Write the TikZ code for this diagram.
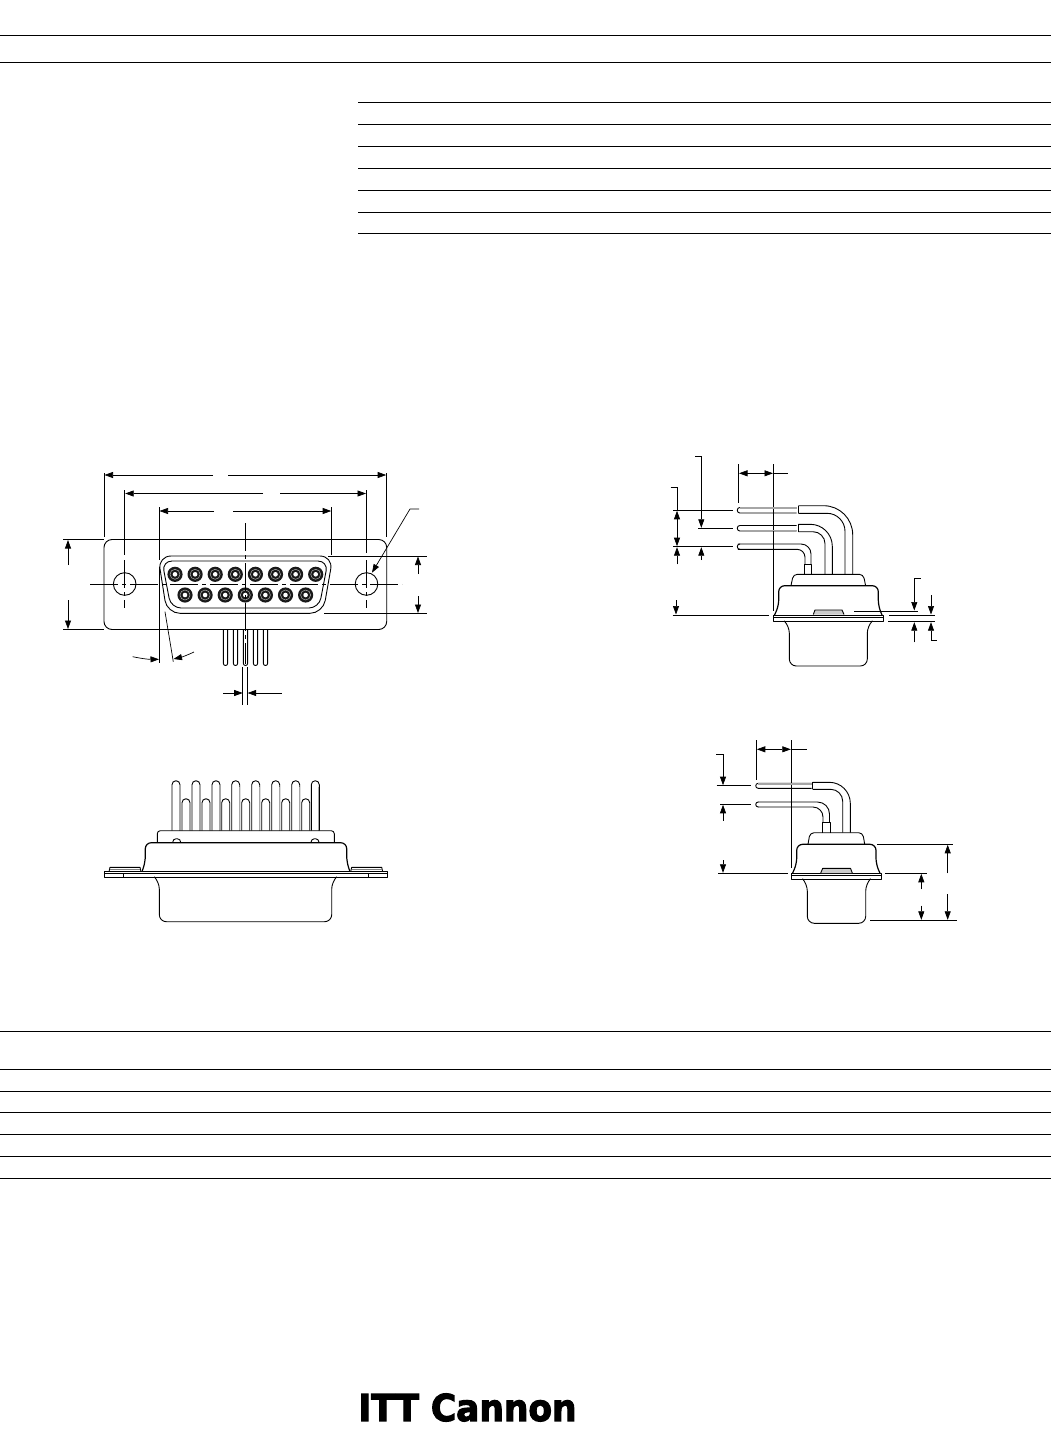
\documentclass[tikz,border=0pt]{standalone}
\usepackage{fontspec}
\usetikzlibrary{arrows.meta}
\newfontfamily\logofont[FakeBold=3]{DejaVu Sans Bold}
\tikzset{
  dimline/.style={line width=0.7pt, {Triangle[length=8.5pt,width=6pt]}-{Triangle[length=8.5pt,width=6pt]}},
  dimtip/.style={line width=0.7pt, -{Triangle[length=8.5pt,width=6pt]}},
  extline/.style={line width=0.7pt},
  centerline/.style={line width=0.7pt, dash pattern=on 28pt off 4pt on 4pt off 4pt},
  outline/.style={line width=0.9pt, line join=round},
  lighter/.style={line width=1.1pt, gray!70},
  rule/.style={line width=0.8pt}
}
\begin{document}
\begin{tikzpicture}[x=1pt, y=-1pt]
\useasboundingbox (0,0) rectangle (1051,1429);
\foreach \y in {35.7,62,1031,1069,1091,1112.6,1134.6,1156.6,1178.2}
  \draw[rule] (0,\y) -- (1051,\y);
\foreach \y in {102,124,146,168,190,212,233.6}
  \draw[rule] (358,\y) -- (1051,\y);
\node[inner sep=0pt, xscale=0.93] (logo) at (467.5,1407.5) {\logofont\fontsize{37}{37}\selectfont ITT Cannon};

\draw[outline, rounded corners=8pt] (245,539.5) -- (386.7,539.5) -- (386.7,629.5) -- (104,629.5) -- (104,539.5) -- cycle;
\draw[outline, rounded corners=13pt] (245,556) -- (333,556) -- (323,613.3) -- (167,613.3) -- (158,556) -- cycle;
\draw[outline, rounded corners=10pt] (245,561) -- (328,561) -- (319,608) -- (171,608) -- (162,561) -- cycle;
\foreach \x in {124.7,366.5}
  \draw[outline] (\x,584) circle (11.3pt);
\foreach \x/\y in {175/574.3,195.1/574.3,215.2/574.3,235.3/574.3,255.4/574.3,275.5/574.3,295.6/574.3,315.7/574.3,185/595,205.1/595,225.2/595,245.3/595,265.4/595,285.5/595,305.6/595} {
  \fill[black!90] (\x,\y) circle (7.6pt);
  \draw[gray!60, line width=0.5pt] (\x,\y) circle (5pt);
  \fill[white] (\x,\y) circle (2.3pt);
}
\draw[centerline] (90,584) -- (402,584);
\draw[centerline] (245.5,523) -- (245.5,664);
\draw[centerline] (124.7,560) -- (124.7,608);
\draw[centerline] (366.5,560) -- (366.5,608);
\foreach \x in {225.5,235.5,245.5,255.5,265.5}
  \draw[outline, rounded corners=2pt] (\x-2.1,630) -- (\x-2.1,665.5) -- (\x+2.1,665.5) -- (\x+2.1,630);

\draw[extline] (104,473) -- (104,537);
\draw[extline] (386.7,473) -- (386.7,537);
\draw[dimtip] (213,475) -- (104.5,475);
\draw[dimtip] (228,475) -- (386.2,475);
\draw[extline] (124.7,490) -- (124.7,555);
\draw[extline] (366.5,490) -- (366.5,553);
\draw[dimtip] (263,493.5) -- (125.2,493.5);
\draw[dimtip] (280,493.5) -- (366,493.5);
\draw[extline] (159,507) -- (159,560);
\draw[extline] (159,567) -- (159,663);
\draw[extline] (331.7,507) -- (331.7,555);
\draw[dimtip] (214,511) -- (159.5,511);
\draw[dimtip] (233,511) -- (331.2,511);
\draw[extline] (63,539.5) -- (104,539.5);
\draw[extline] (63,629.5) -- (104,629.5);
\draw[dimtip] (68,565) -- (68,540);
\draw[dimtip] (68,600) -- (68,629);
\draw[extline] (328,556) -- (427,556);
\draw[extline] (324,613.5) -- (427,613.5);
\draw[dimtip] (418,574) -- (418,556.5);
\draw[dimtip] (418,596) -- (418,613);
\draw[dimtip] (419,509) -- (410,509) -- (372,572.7);
\draw[extline] (165,611.7) -- (173.3,661.7);
\draw[dimtip] (132.7,656.7) to[bend right=6] (159,659.3);
\draw[dimtip] (194,652) to[bend left=6] (173.5,659);
\draw[extline] (242.7,667) -- (242.7,705);
\draw[extline] (247.6,667) -- (247.6,705);
\draw[dimtip] (223.3,693) -- (242.7,693);
\draw[dimtip] (281.7,693) -- (247.6,693);

\foreach \x in {176,196,216,235.7,255.7,275.7,295.7,315.3} {
  \draw[outline, rounded corners=4pt] (\x-4,830.7) -- (\x-4,780.7) -- (\x+4,780.7) -- (\x+4,830.7);
  \draw[lighter] (\x+3.6,787) -- (\x+3.6,830.7);
}
\foreach \x in {186,206,225.7,245.7,265.7,285.7,305.7} {
  \draw[outline, rounded corners=4pt] (\x-4,830.7) -- (\x-4,798.7) -- (\x+4,798.7) -- (\x+4,830.7);
}
\draw[outline, rounded corners=3pt] (157.3,842.7) -- (157.3,830.7) -- (334.3,830.7) -- (334.3,842.7);
\foreach \x in {176.7,315}
  \draw[outline, rounded corners=3.5pt] (\x-4,842.7) -- (\x-4,838.7) -- (\x+4,838.7) -- (\x+4,842.7);
\draw[line width=1.2pt, rounded corners=6pt] (142,871.7) -- (145.3,862) -- (145.3,842.7) -- (346.7,842.7) -- (346.7,862) -- (350,871.7);
\draw[line width=1.2pt, gray!60] (142,871.7) -- (350,871.7);
\draw[outline] (104,871.7) rectangle (387.7,877.5);
\draw[extline] (104,873.7) -- (387.7,873.7);
\foreach \x in {123.7,368.3}
  \draw[extline] (\x,873.7) -- (\x,877.5);
\foreach \x in {110,351.7} {
  \draw[outline] (\x-1,871.7) -- (\x,867.3) -- (\x+30,867.3) -- (\x+31,871.7);
  \draw[extline, gray] (\x,869.5) -- (\x+30,869.5);
}
\draw[outline, rounded corners=7pt] (155,877.5) -- (159.3,882) -- (159.3,921.7) -- (331.7,921.7) -- (331.7,882) -- (336,877.5);

\draw[extline] (738.7,464) -- (738.7,503.3);
\draw[extline] (773.3,464) -- (773.3,611);
\draw[dimline] (739,473.3) -- (773,473.3);
\draw[extline] (773,473.3) -- (787.7,473.3);
\draw[extline] (673.3,510.3) -- (733.3,510.3);
\draw[extline] (698.3,528.3) -- (733.3,528.3);
\draw[extline] (673.3,546.7) -- (733.3,546.7);
\draw[extline] (670.7,487.3) -- (677,487.3) -- (677,510.3);
\draw[dimline] (677,510.8) -- (677,546.2);
\draw[dimtip] (677,564.3) -- (677,547.2);
\draw[dimtip] (695,456.7) -- (701.3,456.7) -- (701.3,527.8);
\draw[dimtip] (701.3,560) -- (701.3,547.2);
\draw[dimtip] (676,600) -- (676,614.5);
\draw[extline] (672.7,615) -- (769.3,615);
\draw[outline, rounded corners=2.5pt] (796.7,507.5) -- (737.3,507.5) -- (737.3,513) -- (796.7,513);
\draw[lighter] (740,508) -- (796.7,508);
\draw[outline, rounded corners=2.5pt] (796.7,525.5) -- (737.3,525.5) -- (737.3,531) -- (796.7,531);
\draw[lighter] (740,530.5) -- (796.7,530.5);
\draw[outline] (798.3,505.7) -- (798.3,513.3);
\draw[outline] (798.3,524.3) -- (798.3,531.7);
\draw[outline, rounded corners=29pt] (798.3,505.7) -- (852.7,505.7) -- (852.7,574.3);
\draw[outline, rounded corners=18pt] (798.3,513.3) -- (845,513.3) -- (845,574.3);
\draw[outline, rounded corners=22pt] (798.3,524.3) -- (832.3,524.3) -- (832.3,574.3);
\draw[outline, rounded corners=12pt] (798.3,531.7) -- (825,531.7) -- (825,574.3);
\draw[outline, rounded corners=10pt] (737.9,544) -- (811,544) -- (811,564);
\draw[outline, rounded corners=8pt] (737.9,549.3) -- (805,549.3) -- (805,564);
\draw[outline, rounded corners=2.5pt] (740,544) -- (737.3,544) -- (737.3,549.3) -- (740,549.3);
\draw[outline] (804,574.3) -- (804,564) -- (811.7,564) -- (811.7,574.3);
\draw[outline, rounded corners=4pt] (791,585.7) -- (793.3,574.3) -- (863.3,574.3) -- (865.6,585.7);
\draw[line width=1.2pt, rounded corners=6pt] (774.5,615) -- (778.7,606) -- (778.7,585.7) -- (878.3,585.7) -- (878.3,606) -- (882,615);
\draw[outline] (773.3,615) rectangle (883.3,621.7);
\draw[extline] (773.3,616.9) -- (883.3,616.9);
\draw[outline, fill=gray!40] (813.3,614.5) -- (815,610) -- (842,610) -- (844,614.5);
\draw[outline, rounded corners=7pt] (785,621.7) -- (789.3,626) -- (789.3,666) -- (867.3,666) -- (867.3,626) -- (871.6,621.7);
\draw[extline] (854,611) -- (918.3,611);
\draw[extline] (889.3,615) -- (935,615);
\draw[extline] (888.3,621.7) -- (935,621.7);
\draw[dimtip] (920.7,578) -- (914.3,578) -- (914.3,610.5);
\draw[dimtip] (914.3,642.3) -- (914.3,622.2);
\draw[dimtip] (931,595) -- (931,614.5);
\draw[dimtip] (936.7,640) -- (931,640) -- (931,622.2);

\draw[extline] (756.3,740) -- (756.3,780);
\draw[extline] (791.3,740) -- (791.3,868);
\draw[dimline] (756.8,749.3) -- (790.8,749.3);
\draw[extline] (790.8,749.3) -- (806.7,749.3);
\draw[extline] (716.7,785.7) -- (751,785.7);
\draw[extline] (720,804.3) -- (751,804.3);
\draw[dimtip] (716,754.3) -- (723,754.3) -- (723,785.2);
\draw[dimtip] (723,820.7) -- (723,804.8);
\draw[dimtip] (723,860) -- (723,872.8);
\draw[extline] (718,873.3) -- (787.7,873.3);
\draw[outline, rounded corners=2.5pt] (811.7,783.3) -- (755.7,783.3) -- (755.7,788.3) -- (811.7,788.3);
\draw[lighter] (758,784) -- (811.7,784);
\draw[outline] (812.7,782.3) -- (812.7,789.3);
\draw[outline, rounded corners=21pt] (812.7,782.3) -- (850.3,782.3) -- (850.3,832.7);
\draw[outline, rounded corners=12pt] (812.7,789.3) -- (842.7,789.3) -- (842.7,832.7);
\draw[outline, rounded corners=12pt] (758,802) -- (829.5,802) -- (829.5,822);
\draw[outline, rounded corners=10pt] (758,807) -- (823,807) -- (823,822);
\draw[outline, rounded corners=2.5pt] (758,802) -- (755.7,802) -- (755.7,807) -- (758,807);
\draw[outline] (822.3,832.7) -- (822.3,822) -- (830,822) -- (830,832.7);
\draw[outline, rounded corners=4pt] (808,844.3) -- (810,832.7) -- (862.7,832.7) -- (864.7,844.3);
\draw[line width=1.2pt, rounded corners=6pt] (792.5,873.3) -- (796.7,864) -- (796.7,844.3) -- (876,844.3) -- (876,864) -- (880,873.3);
\draw[outline] (791.3,873.3) rectangle (881.7,879.3);
\draw[extline] (791.3,875.3) -- (881.7,875.3);
\draw[outline, fill=gray!40] (820.7,873) -- (822.7,868.3) -- (850.5,868.3) -- (852.3,873);
\draw[outline, rounded corners=7pt] (803,879.3) -- (807.3,884) -- (807.3,923.3) -- (865.7,923.3) -- (865.7,884) -- (870,879.3);
\draw[extline] (877.3,844.3) -- (953.3,844.3);
\draw[extline] (885,873.3) -- (926.7,873.3);
\draw[extline] (870,920.3) -- (956.7,920.3);
\draw[dimtip] (947.7,873.3) -- (947.7,844.8);
\draw[dimtip] (947.7,894) -- (947.7,919.8);
\draw[dimtip] (921.3,889.3) -- (921.3,873.8);
\draw[dimtip] (921.3,905.7) -- (921.3,919.8);
\end{tikzpicture}
\end{document}
